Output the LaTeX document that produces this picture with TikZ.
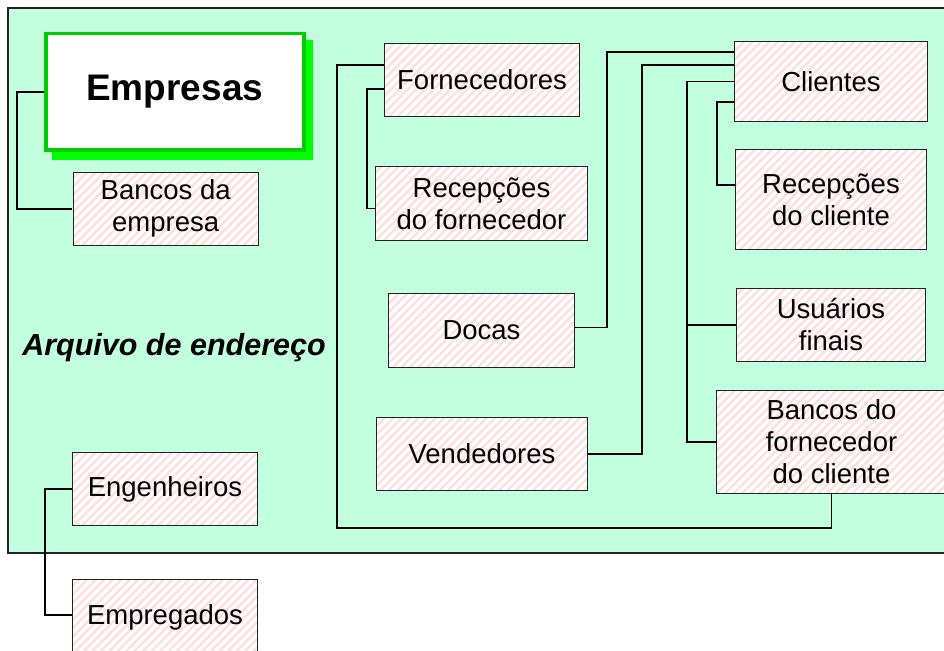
\documentclass[tikz,border=0pt]{standalone}
\usepackage{fontspec}
\setmainfont{Liberation Sans}
\usetikzlibrary{patterns.meta}
\definecolor{bgmint}{RGB}{194,255,223}
\definecolor{empgreen}{RGB}{0,204,0}
\definecolor{shadowgreen}{RGB}{0,255,0}
\definecolor{stripe}{RGB}{255,222,222}
\definecolor{boxline}{RGB}{34,34,34}
\tikzset{
  hbox/.style={draw=boxline, line width=1pt, rectangle, inner sep=0pt, anchor=north west,
    preaction={fill=white},
    pattern={Lines[angle=45,distance=6pt,line width=2.4pt]}, pattern color=stripe,
    align=center, font=\fontsize{27.5}{32}\selectfont, text=black},
  conn/.style={draw=black, line width=1.1pt},
}
\begin{document}
\begin{tikzpicture}[x=1pt,y=-1pt]
\useasboundingbox (0,0) rectangle (944,650);
\clip (0,0) rectangle (944,650);
% background region
\fill[bgmint] (8,8) rectangle (960,553);
\draw[boxline, line width=1.2pt] (960,8) -- (8,8) -- (8,553) -- (960,553);
% shadow of Empresas
\fill[shadowgreen] (52,40) rectangle (313,160);
\node[draw=empgreen, fill=white, line width=3.5pt, rectangle, anchor=north west,
      minimum width=258pt, minimum height=116pt, inner sep=0pt,
      font=\fontsize{37}{42}\selectfont\bfseries] (emp) at (44,32) {Empresas};
% boxes
\node[hbox, minimum width=185pt, minimum height=73pt] (bde) at (72,171) {Bancos da\\empresa};
\node[hbox, minimum width=195pt, minimum height=73pt] (forn) at (384,43) {Fornecedores};
\node[hbox, minimum width=212pt, minimum height=74pt] (rf) at (375,166) {Recepções\\do fornecedor};
\node[hbox, minimum width=186pt, minimum height=74pt] (docas) at (388,293) {Docas};
\node[hbox, minimum width=211pt, minimum height=73pt] (vend) at (376,417) {Vendedores};
\node[hbox, minimum width=193pt, minimum height=80pt] (cli) at (734,41) {Clientes};
\node[hbox, minimum width=191pt, minimum height=100pt] (rc) at (735,149) {Recepções\\do cliente};
\node[hbox, minimum width=189pt, minimum height=73pt] (uf) at (736,288) {Usuários\\finais};
\node[hbox, minimum width=230pt, minimum height=103pt] (bfc) at (716,390) {Bancos do\\fornecedor\\do cliente};
\node[hbox, minimum width=185pt, minimum height=73pt] (eng) at (72,452) {Engenheiros};
\node[hbox, minimum width=185pt, minimum height=76pt] (empg) at (72,579) {Empregados};
% label
\node[anchor=base, font=\fontsize{30.5}{35}\selectfont\bfseries\itshape] (arq) at (174,355) {Arquivo de endereço};
% connectors
\draw[conn, line width=2.4pt] (emp.west) -- ++(-27,0) |- (bde.west);
\draw[conn] ([yshift=-22pt]forn.north west) -- ++(-47,0) |- ([yshift=-34pt]bfc.south) -- (bfc.south);
\draw[conn] ([yshift=-46pt]forn.north west) -- ++(-17,0) |- ([yshift=-5pt]rf.west);
\draw[conn] ([yshift=-11pt]cli.north west) -- ++(-127,0) |- ([yshift=3pt]docas.east);
\draw[conn] ([yshift=-24pt]cli.north west) -- ++(-92,0) |- (vend.east);
\draw[conn] (cli.west) -- ++(-47,0) |- (bfc.west);
\draw[conn] (cli.west) ++(-47,0) |- (uf.west);
\draw[conn] ([yshift=-61pt]cli.north west) -- ++(-17,0) |- ([yshift=-36pt]rc.north west);
\draw[conn] (eng.west) -- ++(-27,0) |- ([yshift=-36pt]empg.north west);
\end{tikzpicture}
\end{document}
